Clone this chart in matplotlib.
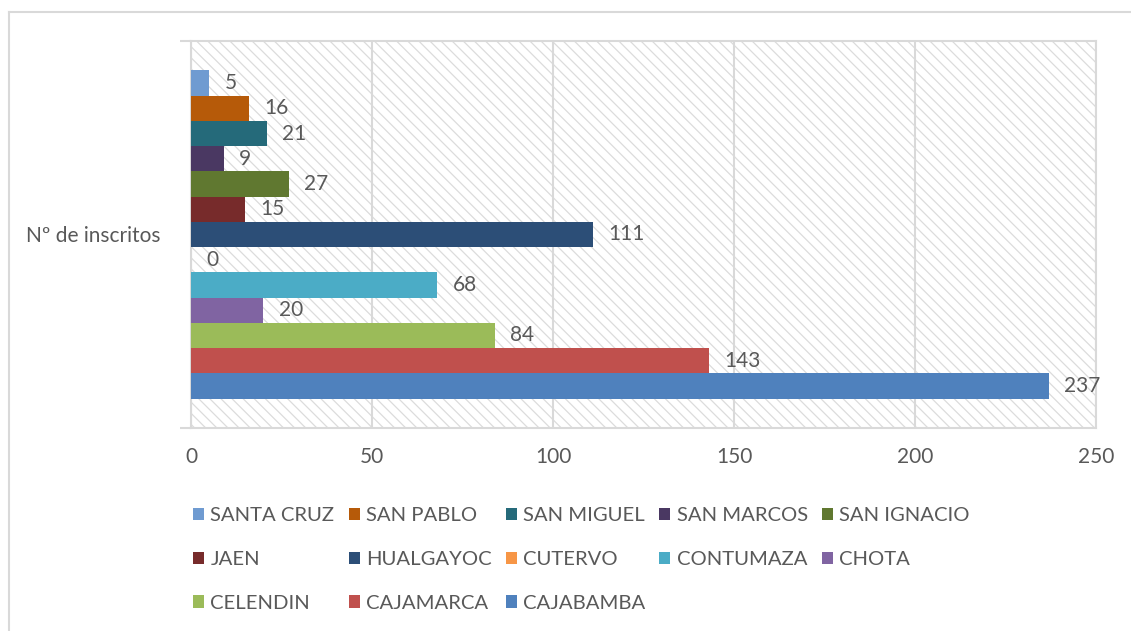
import numpy as np
import matplotlib.pyplot as plt
from matplotlib.patches import Rectangle
from matplotlib.lines import Line2D

# series listed top to bottom as they appear in the chart
provincias = ['SANTA CRUZ', 'SAN PABLO', 'SAN MIGUEL', 'SAN MARCOS', 'SAN IGNACIO',
              'JAEN', 'HUALGAYOC', 'CUTERVO', 'CONTUMAZA', 'CHOTA',
              'CELENDIN', 'CAJAMARCA', 'CAJABAMBA']
inscritos = [5, 16, 21, 9, 27, 15, 111, 0, 68, 20, 84, 143, 237]
colores = ['#6F9BD1', '#B65A09', '#256A7A', '#4A3862', '#607830',
           '#772B2B', '#2C4E77', '#F79646', '#4BACC6', '#8064A2',
           '#9BBB59', '#C0504D', '#4F81BD']
categoria = 'Nº de inscritos'
xticks = [0, 50, 100, 150, 200, 250]

plt.rcParams['font.family'] = ['Lato', 'DejaVu Sans']
plt.rcParams['hatch.linewidth'] = 0.9
gris = '#595959'
linea = '#D9D9D9'

fig = plt.figure(figsize=(11.31, 6.31), dpi=100)
ax = fig.add_axes([191/1131, 1 - 428/631, (1096 - 191)/1131, (428 - 41)/631])

# hatched plot area background
ax.add_patch(Rectangle((0, 0), 1, 1, transform=ax.transAxes, facecolor='white',
                       edgecolor='#DCDCDC', hatch='\\\\\\', lw=0, zorder=0))

n = len(provincias)
h = 0.848 / n
pos = 0.424 - h / 2 - np.arange(n) * h

handles = []
for i in range(n):
    b = ax.barh(pos[i], inscritos[i], height=h, color=colores[i], zorder=3,
                label=provincias[i])
    ax.bar_label(b, padding=11, fontsize=15, color=gris)
    handles.append(b)

ax.set_xlim(0, 250)
ax.set_ylim(-0.5, 0.5)
ax.set_xticks(xticks)
ax.tick_params(axis='x', length=0, labelsize=15, labelcolor=gris, pad=14)
ax.set_yticks([0])
ax.set_yticklabels([categoria])
ax.tick_params(axis='y', which='major', length=0, labelsize=15, labelcolor=gris, pad=22)
ax.set_yticks([-0.5, 0.5], minor=True)
ax.tick_params(axis='y', which='minor', length=8, color=linea, width=1.5)
ax.grid(axis='x', color=linea, lw=1.5, zorder=1)
ax.set_axisbelow(True)
for s in ax.spines.values():
    s.set_color(linea)
    s.set_linewidth(1.5)

# legend filled row by row like the original
order = [0, 5, 10, 1, 6, 11, 2, 7, 12, 3, 8, 4, 9]
fig.legend([handles[k] for k in order], [provincias[k] for k in order],
           ncol=5, loc='upper left', bbox_to_anchor=(185/1131, 1 - 499/631),
           frameon=False, fontsize=14.6, labelcolor=gris, handlelength=0.55,
           handleheight=0.55, handletextpad=0.3, columnspacing=0.7,
           labelspacing=1.32, borderaxespad=0)

# outer chart border
fig.add_artist(Line2D([9/1131, 1], [1 - 12/631, 1 - 12/631], color=linea, lw=1.5))
fig.add_artist(Line2D([9/1131, 9/1131], [0, 1 - 12/631], color=linea, lw=1.5))

fig.savefig('out.png', dpi=100)
